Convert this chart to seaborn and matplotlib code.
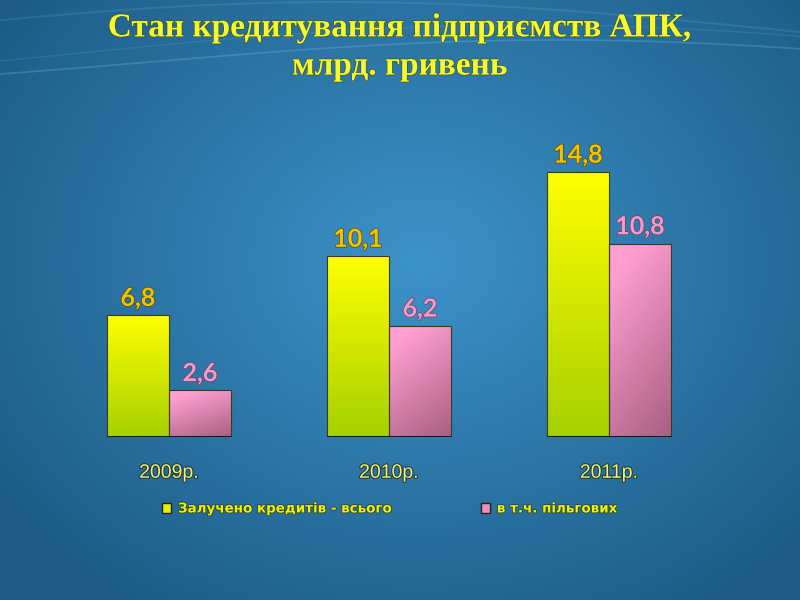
import numpy as np
import pandas as pd
import matplotlib
matplotlib.use("Agg")
import matplotlib.pyplot as plt
import matplotlib.patheffects as pe
from matplotlib.colors import LinearSegmentedColormap
from matplotlib.patches import Patch
import seaborn as sns

categories = ["2009р.", "2010р.", "2011р."]
series_names = ["Залучено кредитів - всього", "в т.ч. пільгових"]
total_credits = [6.8, 10.1, 14.8]
preferential = [2.6, 6.2, 10.8]
label_texts_total = ["6,8", "10,1", "14,8"]
label_texts_pref = ["2,6", "6,2", "10,8"]

df = pd.DataFrame({
    "year": categories * 2,
    "series": [series_names[0]] * 3 + [series_names[1]] * 3,
    "value": total_credits + preferential,
})

sns.set_theme(style="white")
plt.rcParams["font.family"] = ["DejaVu Sans"]

fig = plt.figure(figsize=(8, 6), dpi=100)

# background radial gradient
bg = fig.add_axes([0, 0, 1, 1], zorder=0)
yy, xx = np.mgrid[0:600, 0:800]
d = np.sqrt(((xx - 420) / 520.0) ** 2 + ((yy - 260) / 420.0) ** 2)
d = np.clip(d, 0, 1)
c_in = np.array([0x3d, 0x93, 0xc9]) / 255
c_out = np.array([0x1d, 0x5b, 0x86]) / 255
img = c_in[None, None, :] * (1 - d[..., None]) + c_out[None, None, :] * d[..., None]
bg.imshow(img, extent=[0, 800, 600, 0], aspect="auto")
xs = np.linspace(0, 800, 300)
bg.plot(xs, 62 - 22 * np.sin((xs - 150) / 260.0), color="#6cc6e6", alpha=0.3, lw=1.2)
bg.plot(xs, 55 - 30 * np.sin((xs - 60) / 300.0), color="#5ab4dc", alpha=0.2, lw=1.0)
bg.plot(xs, 30 - 28 * np.sin((xs + 100) / 280.0), color="#7fd0ee", alpha=0.15, lw=1.5)
bg.set_xlim(0, 800)
bg.set_ylim(600, 0)
bg.axis("off")

ax = fig.add_axes([59 / 800, 1 - 437 / 600, 660 / 800, 286.4 / 600], zorder=1)
ax.patch.set_alpha(0)

sns.barplot(data=df, x="year", y="value", hue="series", order=categories,
            hue_order=series_names, palette=["#e8f000", "#f090c0"],
            width=0.564, gap=0, ax=ax, edgecolor="#3a3a20", linewidth=0.8,
            legend=True)

yellow_cmap = LinearSegmentedColormap.from_list("yel", ["#a6d000", "#ffff00"])
pink_cmap = LinearSegmentedColormap.from_list("pnk", ["#8a4a68", "#ff9fd0"])

bars = [p for p in ax.patches if p.get_height() > 0]
for p in bars:
    x0, y0 = p.get_x(), p.get_y()
    w, h = p.get_width(), p.get_height()
    fc = p.get_facecolor()
    is_yellow = fc[2] < 0.5
    if is_yellow:
        grad = np.repeat(np.linspace(0, 1, 256).reshape(-1, 1), 2, axis=1)
        cmap = yellow_cmap
    else:
        gy, gx = np.mgrid[0:1:128j, 0:1:64j]
        grad = 0.25 + 0.75 * np.clip(gy * 0.8 + (1 - gx) * 0.35, 0, 1)
        cmap = pink_cmap
    im = ax.imshow(grad, extent=[x0, x0 + w, y0, y0 + h], origin="lower",
                   aspect="auto", cmap=cmap, vmin=0, vmax=1, zorder=2)
    im.set_clip_path(p)
    p.set_facecolor("none")
    p.set_zorder(3)
    # dark base under each bar
    ax.plot([x0, x0 + w], [0, 0], color="#1a1a1a", lw=2.2, zorder=4,
            solid_capstyle="butt")

ax.set_ylim(0, 16)
ax.set_xlim(-0.5, 2.5)

ydata = [total_credits, preferential]
labs = [label_texts_total, label_texts_pref]
cols = ["#f2c400", "#f49acb"]
for si in range(2):
    for i in range(3):
        xc = i + (-0.141 if si == 0 else 0.141)
        t = ax.text(xc, ydata[si][i] + 0.3, labs[si][i], ha="center", va="bottom",
                    fontsize=18, fontweight="bold", color=cols[si],
                    family=["Lato", "DejaVu Sans"])
        t.set_path_effects([pe.SimpleLineShadow(offset=(1.5, -1.5), shadow_color="#123048",
                                                alpha=0.7, linewidth=0),
                            pe.Stroke(linewidth=1.0, foreground="#5c4a10" if si == 0 else "#7a3a60"),
                            pe.Normal()])

for s in ax.spines.values():
    s.set_visible(False)
ax.set_yticks([])
ax.set_xlabel("")
ax.set_ylabel("")
ax.tick_params(axis="x", length=0, pad=20)
for lbl in ax.get_xticklabels():
    lbl.set_fontsize(14)
    lbl.set_color("#f4f070")
    lbl.set_family(["Liberation Sans", "DejaVu Sans"])
    lbl.set_path_effects([pe.withStroke(linewidth=1.5, foreground="#1e3a40")])

# legend
ax.get_legend().remove()
hnd = [Patch(facecolor="#e8f000", edgecolor="#222222", linewidth=1.0),
       Patch(facecolor="#f090c0", edgecolor="#222222", linewidth=1.0)]
leg = fig.legend(hnd, series_names, loc="center", bbox_to_anchor=(0.4875, 1 - 509 / 600),
                 ncol=2, frameon=False, handlelength=0.7, handleheight=0.7,
                 handletextpad=0.5, columnspacing=6.5,
                 prop={"size": 9.7, "weight": "bold", "family": ["DejaVu Sans"]})
for t in leg.get_texts():
    t.set_color("#f0f000")
    t.set_path_effects([pe.withStroke(linewidth=1.2, foreground="#2a4a30")])

# title
title = fig.text(0.5, 1 - 47 / 600, "Стан кредитування підприємств АПК,\nмлрд. гривень",
                 ha="center", va="center", fontsize=24, fontweight="bold",
                 color="#f8f830", family=["Liberation Serif", "DejaVu Serif"],
                 linespacing=1.3)
title.set_path_effects([pe.withStroke(linewidth=1.0, foreground="#3a5a30")])

fig.savefig("out.png", dpi=100)
